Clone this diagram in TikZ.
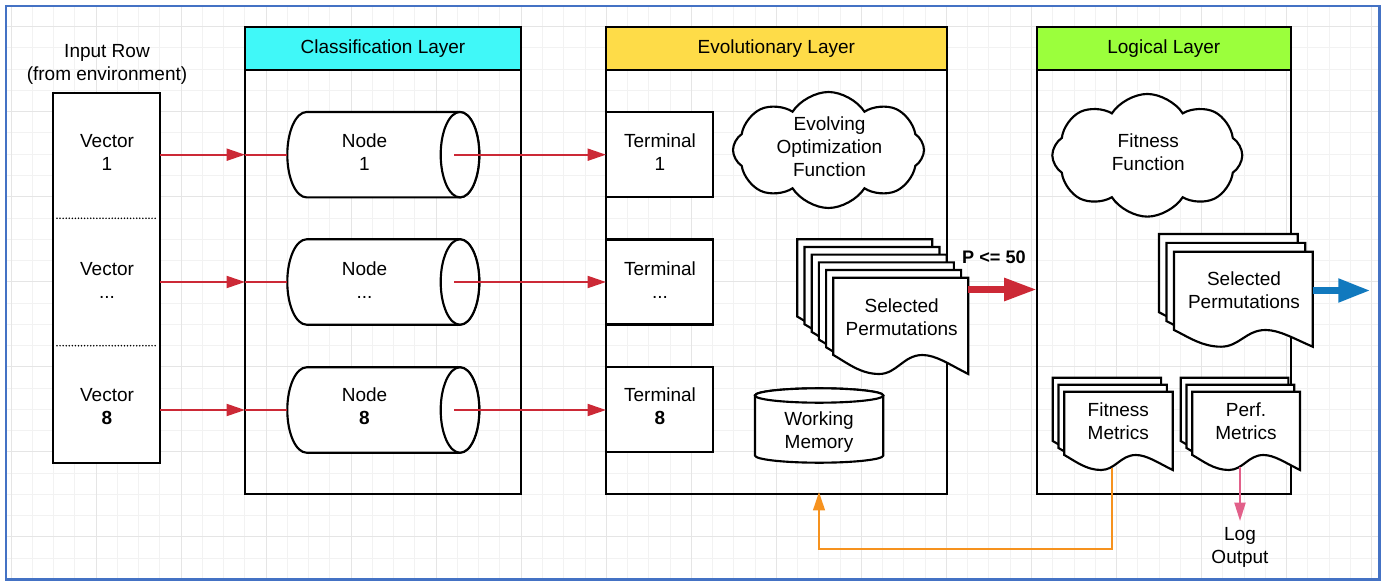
\documentclass[tikz,border=0pt]{standalone}
\usepackage{fontspec}
\setmainfont{Liberation Sans}
\usetikzlibrary{arrows.meta,shapes.geometric,shapes.symbols,calc}
\definecolor{gridminor}{RGB}{242,242,242}
\definecolor{gridmajor}{RGB}{229,229,229}
\definecolor{bordblue}{RGB}{68,114,196}
\definecolor{hcyan}{RGB}{64,248,248}
\definecolor{hyellow}{RGB}{254,220,72}
\definecolor{hgreen}{RGB}{155,255,60}
\definecolor{ared}{RGB}{204,41,54}
\definecolor{ablue}{RGB}{17,121,190}
\definecolor{aorange}{RGB}{246,146,30}
\definecolor{apink}{RGB}{226,96,138}
\tikzset{
  frame/.style={draw=black,line width=1.6pt,inner sep=0pt,outer sep=0pt},
  box/.style={frame,fill=white},
  sz/.style 2 args={minimum width=#1*0.75pt,minimum height=#2*0.75pt},
  lbl/.style={align=center,inner sep=0pt,text=black},
  shp/.style={draw=black,line width=1.6pt,fill=white},
  thinred/.style={draw=ared,line width=1.5pt,-{Triangle[length=13.8pt,width=9pt]}},
  redline/.style={draw=ared,line width=1.5pt},
  cloudbox/.style={cloud,draw=black,fill=white,line width=1.6pt,cloud puffs=8,cloud puff arc=115,inner sep=0pt},
  dotsep/.style={draw=black,line width=1.3pt,line cap=round,dash pattern=on 0pt off 2.3pt}
}
\newcommand\docsheet[5]{%
 \draw[shp] ({#1},{#2}) -- ({#1+#3},{#2}) -- ({#1+#3},{#2+#4+#5})
  .. controls ({#1+0.86*(#3)},{#2+#4+0.5*(#5)}) and ({#1+0.76*(#3)},{#2+#4}) .. ({#1+0.66*(#3)},{#2+#4})
  .. controls ({#1+0.52*(#3)},{#2+#4}) and ({#1+0.47*(#3)},{#2+#4+#5}) .. ({#1+0.34*(#3)},{#2+#4+#5})
  .. controls ({#1+0.2*(#3)},{#2+#4+#5}) and ({#1+0.1*(#3)},{#2+#4+0.4*(#5)}) .. ({#1},{#2+#4}) -- cycle;}
\begin{document}
\begin{tikzpicture}[x=0.75pt,y=-0.75pt,font=\fontsize{14.25}{17.25}\selectfont]
\useasboundingbox (0,0) rectangle (1386,588);
% grid
\begin{scope}
 \clip (6,6) rectangle (1379.3,579.3);
 \foreach \k in {0,...,64}{\draw[gridminor,line width=0.75pt] ({11+21.26*\k},6) -- ({11+21.26*\k},579.3);}
 \foreach \k in {0,...,27}{\draw[gridminor,line width=0.75pt] (6,{5.44+21.26*\k}) -- (1379.3,{5.44+21.26*\k});}
 \foreach \k in {0,4,...,64}{\draw[gridmajor,line width=0.75pt] ({11+21.26*\k},6) -- ({11+21.26*\k},579.3);}
 \foreach \k in {1,5,...,25}{\draw[gridmajor,line width=0.75pt] (6,{5.44+21.26*\k}) -- (1379.3,{5.44+21.26*\k});}
\end{scope}
\draw[bordblue,line width=1.8pt] (6,6) rectangle (1379.3,579.3);
% layers
\node[frame,sz={276}{467},anchor=north west] (cls) at (245,27) {};
\node[frame,fill=hcyan,sz={276}{43},anchor=north west] (clsh) at (245,27) {Classification Layer};
\node[frame,sz={340.7}{467},anchor=north west] (evo) at (606,27) {};
\node[frame,fill=hyellow,sz={340.7}{43},anchor=north west] (evoh) at (606,27) {Evolutionary Layer};
\node[frame,sz={254.3}{467},anchor=north west] (lgc) at (1036.7,27) {};
\node[frame,fill=hgreen,sz={254.3}{43},anchor=north west] (lgch) at (1036.7,27) {Logical Layer};
% input row
\node[lbl] (inrow) at (107,64) {Input Row\\(from environment)};
\node[box,sz={107}{369.4},anchor=north west] (vec) at (53,93.3) {};
\draw[dotsep] (57,218.3) -- (157,218.3);
\draw[dotsep] (57,345.7) -- (157,345.7);
% cylinders
\foreach \c/\n in {154.7/1,282/2,410/3}{
 \draw[shp] (460,{\c-42.7}) -- (306.6,{\c-42.7}) arc[start angle=90,end angle=270,x radius=14.475pt,y radius=32.025pt] -- (460,{\c+42.7}) arc[start angle=-90,end angle=90,x radius=14.475pt,y radius=32.025pt] -- cycle;
 \draw[shp] (460,\c) ellipse[x radius=14.475pt,y radius=32.025pt];
 \coordinate (cyw\n) at (287.3,\c);
 \coordinate (cye\n) at (454.3,\c);
}
% terminals
\node[box,sz={107.3}{85},anchor=north west] (t1) at (606,112.3) {};
\node[box,sz={107.3}{85},anchor=north west] (t2) at (606,239.5) {};
\node[box,sz={107.3}{85},anchor=north west] (t3) at (606,367.3) {};
% clouds
\node[cloudbox,aspect=1.65,minimum width=143.25pt,minimum height=87pt] (eof) at (828.5,150) {};
\node[cloudbox,aspect=1.55,minimum width=142.5pt,minimum height=92pt] (ff) at (1147.3,155.3) {};
% document stacks
\foreach \i in {0,...,5}{\docsheet{797.3+7.2*\i}{239.3+7.68*\i}{135}{77.3}{19}}
\foreach \i in {0,1,2}{\docsheet{1159+7.5*\i}{234+8.85*\i}{138.7}{78.3}{16.7}}
\foreach \i in {0,1,2}{\docsheet{1052.7+5.8*\i}{377.7+7*\i}{108.4}{63.3}{15}}
\foreach \i in {0,1,2}{\docsheet{1180.7+5.8*\i}{377.7+7*\i}{107.7}{63.3}{15}}
% working memory
\draw[shp] (755,395.5) -- (755,455.5) arc[start angle=180,end angle=360,x radius=48.11pt,y radius=5.4pt] -- (883.3,395.5) arc[start angle=0,end angle=180,x radius=48.11pt,y radius=5.4pt] -- cycle;
\draw[shp] (819.15,395.5) ellipse[x radius=48.11pt,y radius=5.4pt];
% labels
\node[lbl] (v1) at (107,152.5) {Vector\\1};
\node[lbl] (v2) at (107,280) {Vector\\...};
\node[lbl] (v8) at (107,406.5) {Vector\\\textbf{8}};
\node[lbl] (n1) at (364.5,152.5) {Node\\1};
\node[lbl] (n2) at (364.5,280) {Node\\...};
\node[lbl] (n8) at (364.5,406.5) {Node\\\textbf{8}};
\node[lbl] (tl1) at (660,152.5) {Terminal\\1};
\node[lbl] (tl2) at (660,280) {Terminal\\...};
\node[lbl] (tl8) at (660,406.5) {Terminal\\\textbf{8}};
\node[lbl] (eoft) at (829.5,147) {Evolving\\Optimization\\Function};
\node[lbl] (fft) at (1148.3,152.5) {Fitness\\Function};
\node[lbl] (espt) at (901.7,317.5) {Selected\\Permutations};
\node[lbl] (lspt) at (1244,290.2) {Selected\\Permutations};
\node[lbl] (fmt) at (1118.3,421) {Fitness\\Metrics};
\node[lbl] (pmt) at (1246,421) {Perf.\\Metrics};
\node[lbl] (wmt) at (819,432.4) {Working\\Memory};
\node[lbl,outer sep=4.5pt] (logout) at (1240,547) {Log\\Output};
\node[inner sep=0pt,font=\fontsize{13.6}{15}\selectfont\bfseries] (plbl) at (994,257.5) {P <= 50};
% connectors
\foreach \n/\t in {1/t1,2/t2,3/t3}{
 \draw[thinred] (vec.east |- cyw\n) -- (cls.west |- cyw\n);
 \draw[redline] (cls.west |- cyw\n) -- (cyw\n);
 \draw[thinred] (cye\n) -- (\t.west |- cye\n);
}
\coordinate (epE) at (968.3,289.5);
\draw[ared,line width=5pt,-{Triangle[length=24.5pt,width=16.3pt]}] (epE) -- (lgc.west |- epE);
\coordinate (lpE) at (1312.7,290.5);
\coordinate (bout) at (1370.7,290.5);
\draw[ablue,line width=5.7pt,-{Triangle[length=24.3pt,width=16.5pt]}] (lpE) -- (bout);
\coordinate (fmB) at (1112.3,468);
\coordinate (wmX) at (819,0);
\coordinate (loop) at (0,549);
\draw[aorange,line width=1.5pt,shorten >=-1.5pt,-{Triangle[length=13.8pt,width=8.8pt]}] (fmB) -- (fmB |- loop) -- (wmX |- loop) -- (wmX |- evo.south);
\coordinate (pmB) at (1240,467);
\draw[apink,line width=1.5pt,-{Triangle[length=13.8pt,width=8.3pt]}] (pmB) -- (pmB |- logout.north);
\end{tikzpicture}
\end{document}
